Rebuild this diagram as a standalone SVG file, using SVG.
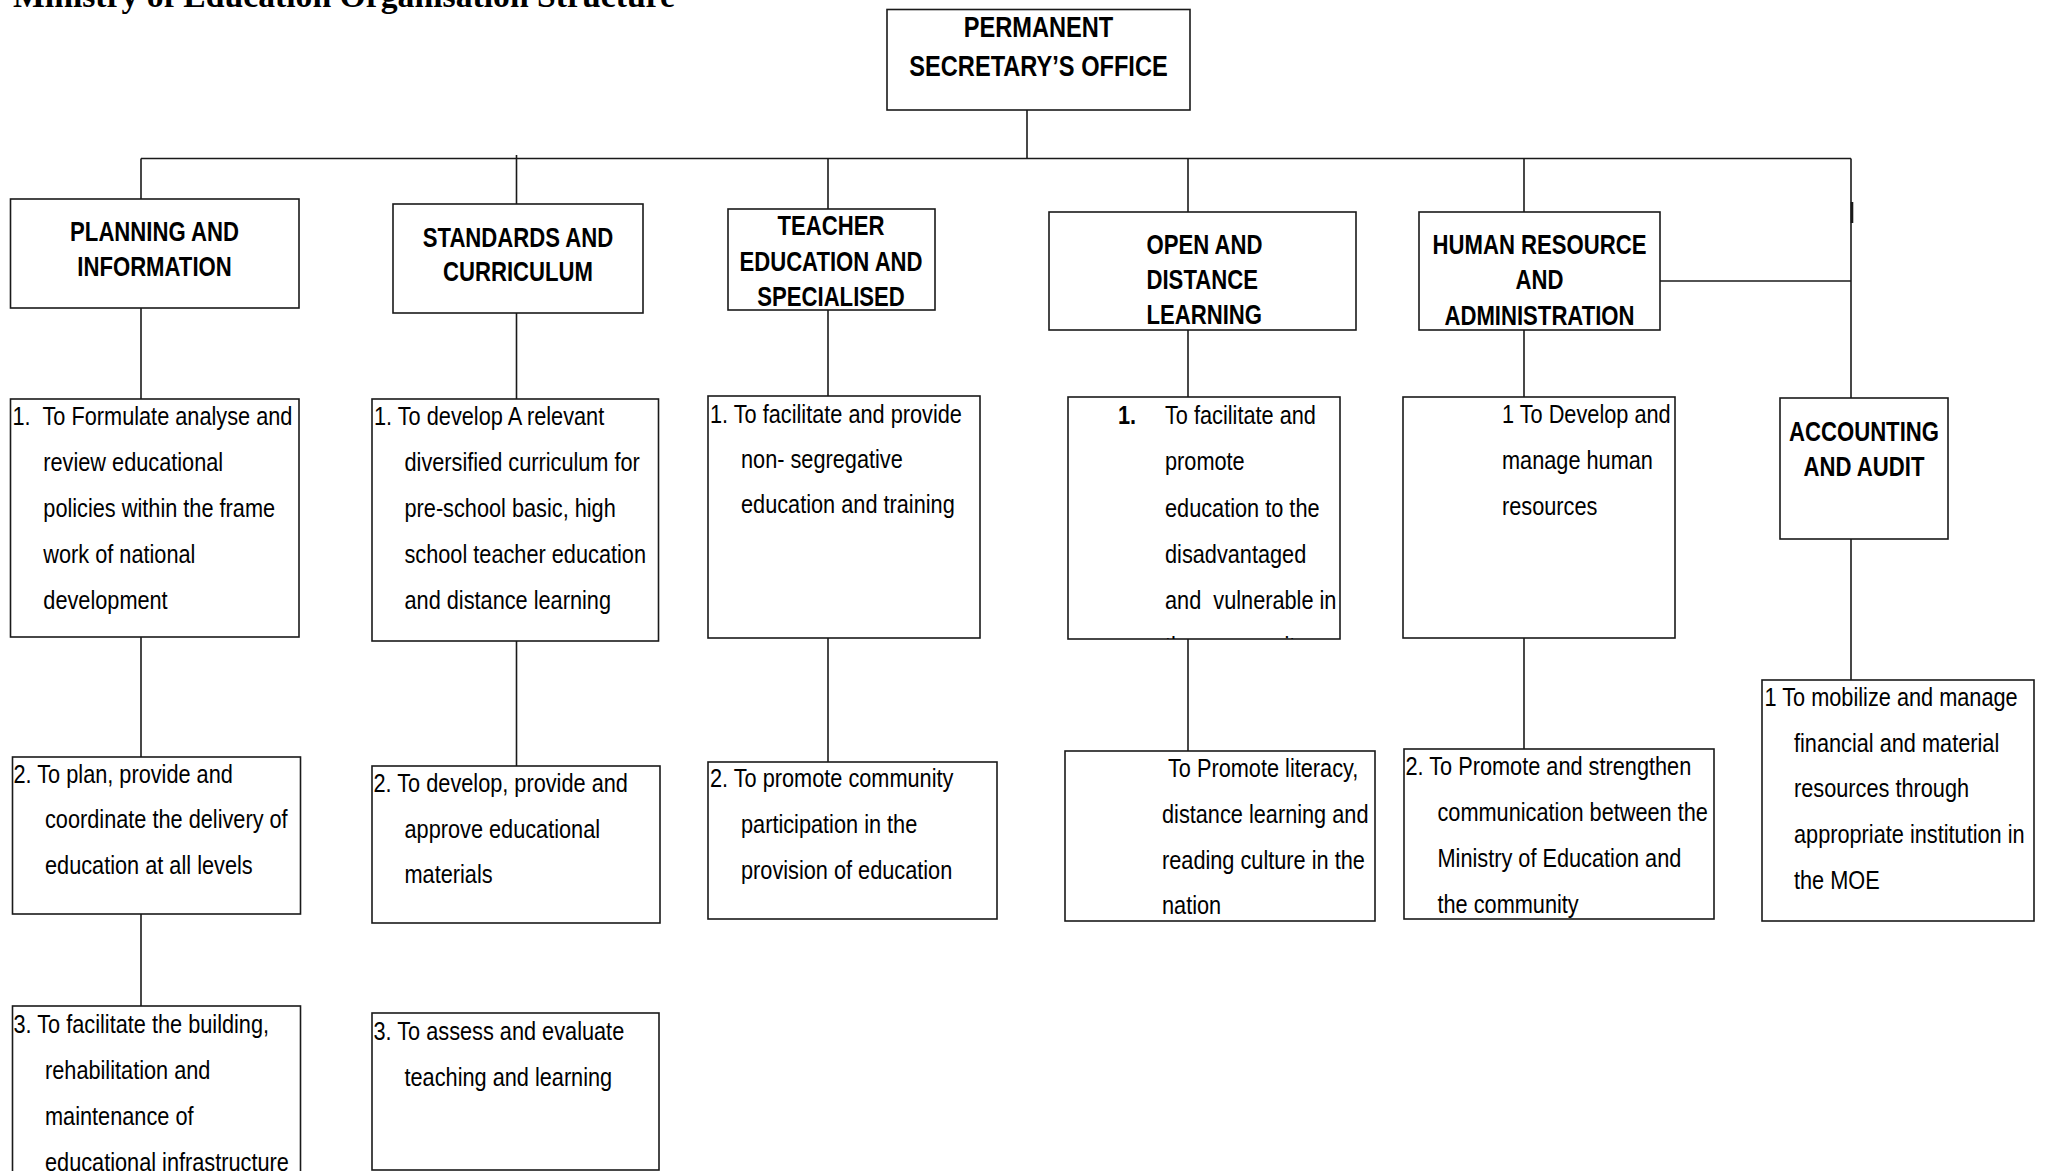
<svg xmlns="http://www.w3.org/2000/svg" width="2047" height="1171" viewBox="0 0 2047 1171">
  <style>
    .box { fill: #ffffff; stroke: #1a1a1a; stroke-width: 1.6; }
    .ln { fill: none; stroke: #1a1a1a; stroke-width: 1.6; }
    /* condensed sans: regular face squeezed horizontally via transform */
    .hd { font-family: "Liberation Sans", Arial, sans-serif; font-weight: bold; font-size: 27px; fill: #000; text-anchor: middle; }
    .hd.l { text-anchor: start; }
    .hd.ps { font-size: 28.8px; }
    .tx { font-family: "Liberation Sans", Arial, sans-serif; font-size: 26.5px; fill: #000; }
    .b { font-weight: bold; }
    .title { font-family: "Liberation Serif", "Times New Roman", serif; font-weight: bold; font-size: 33.7px; fill: #000; }
  </style>
  <defs>
    <clipPath id="clipOpen1">
      <rect x="1068" y="397" width="272" height="242"/>
    </clipPath>
  </defs>
  <rect width="2047" height="1171" fill="#ffffff"/>

  <text class="title" x="13" y="7">Ministry of Education Organisation Structure</text>

  <!-- connectors -->
  <g id="connectors">
    <line class="ln" x1="1027" y1="110" x2="1027" y2="158.5"/>
    <line class="ln" x1="141" y1="158.5" x2="1851" y2="158.5"/>
    <line class="ln" x1="1851" y1="158.5" x2="1851" y2="398"/>
    <line x1="1852" y1="202" x2="1852" y2="223" stroke="#1a1a1a" stroke-width="2.6"/>
    <line class="ln" x1="1660" y1="281" x2="1851" y2="281"/>
    <!-- drops to department boxes -->
    <line class="ln" x1="141" y1="158.5" x2="141" y2="199"/>
    <line class="ln" x1="516.5" y1="155" x2="516.5" y2="204"/>
    <line class="ln" x1="828" y1="158.5" x2="828" y2="209"/>
    <line class="ln" x1="1188" y1="158.5" x2="1188" y2="212"/>
    <line class="ln" x1="1524" y1="158.5" x2="1524" y2="212"/>
    <!-- function chains -->
    <line class="ln" x1="141" y1="308" x2="141" y2="399"/>
    <line class="ln" x1="141" y1="637" x2="141" y2="757"/>
    <line class="ln" x1="141" y1="914" x2="141" y2="1006"/>
    <line class="ln" x1="516.5" y1="313" x2="516.5" y2="399"/>
    <line class="ln" x1="516.5" y1="641" x2="516.5" y2="766"/>
    <line class="ln" x1="828" y1="310" x2="828" y2="396"/>
    <line class="ln" x1="828" y1="638" x2="828" y2="762"/>
    <line class="ln" x1="1188" y1="330" x2="1188" y2="397"/>
    <line class="ln" x1="1188" y1="639" x2="1188" y2="751"/>
    <line class="ln" x1="1524" y1="330" x2="1524" y2="397"/>
    <line class="ln" x1="1524" y1="638" x2="1524" y2="749"/>
    <line class="ln" x1="1851" y1="539" x2="1851" y2="680"/>
  </g>

  <!-- top office -->
  <g id="permanent-secretary">
    <rect class="box" x="887" y="9.5" width="303" height="100.5"/>
    <text class="hd ps" transform="translate(1038.5 37) scale(0.82 1)">PERMANENT</text>
    <text class="hd ps" transform="translate(1038.5 76) scale(0.82 1)">SECRETARY’S OFFICE</text>
  </g>

  <!-- departments -->
  <g id="planning">
    <rect class="box" x="10.5" y="199" width="288.5" height="109"/>
    <text class="hd" transform="translate(154.5 240.5) scale(0.82 1)">PLANNING AND</text>
    <text class="hd" transform="translate(154.5 275.5) scale(0.82 1)">INFORMATION</text>
  </g>
  <g id="standards">
    <rect class="box" x="393" y="204" width="250" height="109"/>
    <text class="hd" transform="translate(518 246.5) scale(0.82 1)">STANDARDS AND</text>
    <text class="hd" transform="translate(518 281) scale(0.82 1)">CURRICULUM</text>
  </g>
  <g id="teacher-education">
    <rect class="box" x="728" y="209" width="207" height="101"/>
    <text class="hd" transform="translate(831 235) scale(0.82 1)">TEACHER</text>
    <text class="hd" transform="translate(831 270.5) scale(0.82 1)">EDUCATION AND</text>
    <text class="hd" transform="translate(831 305.5) scale(0.82 1)">SPECIALISED</text>
  </g>
  <g id="open-distance">
    <rect class="box" x="1049" y="212" width="307" height="118"/>
    <text class="hd l" transform="translate(1146.5 254) scale(0.82 1)">OPEN AND</text>
    <text class="hd l" transform="translate(1146.5 289) scale(0.82 1)">DISTANCE</text>
    <text class="hd l" transform="translate(1146.5 324) scale(0.82 1)">LEARNING</text>
  </g>
  <g id="human-resource">
    <rect class="box" x="1419" y="212" width="241" height="118"/>
    <text class="hd" transform="translate(1539.5 254) scale(0.82 1)">HUMAN RESOURCE</text>
    <text class="hd" transform="translate(1539.5 289) scale(0.82 1)">AND</text>
    <text class="hd" transform="translate(1539.5 325) scale(0.82 1)">ADMINISTRATION</text>
  </g>
  <g id="accounting">
    <rect class="box" x="1780" y="398" width="168" height="141"/>
    <text class="hd" transform="translate(1864 441) scale(0.82 1)">ACCOUNTING</text>
    <text class="hd" transform="translate(1864 476) scale(0.82 1)">AND AUDIT</text>
  </g>

  <!-- planning functions -->
  <g id="planning-1">
    <rect class="box" x="10.5" y="399" width="288.5" height="238"/>
    <text class="tx" transform="translate(12.5 425) scale(0.82 1)">1.</text>
    <text class="tx" transform="translate(42.5 425) scale(0.82 1)">To Formulate analyse and</text>
    <text class="tx" transform="translate(43.3 470.7) scale(0.82 1)">review educational</text>
    <text class="tx" transform="translate(43.3 516.7) scale(0.82 1)">policies within the frame</text>
    <text class="tx" transform="translate(43.3 562.7) scale(0.82 1)">work of national</text>
    <text class="tx" transform="translate(43.3 608.7) scale(0.82 1)">development</text>
  </g>
  <g id="planning-2">
    <rect class="box" x="12.5" y="757" width="288" height="157"/>
    <text class="tx" transform="translate(13.5 782.7) scale(0.82 1)">2. To plan, provide and</text>
    <text class="tx" transform="translate(45 828.3) scale(0.82 1)">coordinate the delivery of</text>
    <text class="tx" transform="translate(45 874) scale(0.82 1)">education at all levels</text>
  </g>
  <g id="planning-3">
    <rect class="box" x="12.5" y="1006" width="288" height="180"/>
    <text class="tx" transform="translate(13.5 1033) scale(0.82 1)">3. To facilitate the building,</text>
    <text class="tx" transform="translate(45 1079) scale(0.82 1)">rehabilitation and</text>
    <text class="tx" transform="translate(45 1125) scale(0.82 1)">maintenance of</text>
    <text class="tx" transform="translate(45 1170.5) scale(0.82 1)">educational infrastructure</text>
  </g>

  <!-- standards functions -->
  <g id="standards-1">
    <rect class="box" x="372" y="399" width="286.5" height="242"/>
    <text class="tx" transform="translate(374 425) scale(0.82 1)">1. To develop A relevant</text>
    <text class="tx" transform="translate(404.5 470.7) scale(0.82 1)">diversified curriculum for</text>
    <text class="tx" transform="translate(404.5 516.7) scale(0.82 1)">pre-school basic, high</text>
    <text class="tx" transform="translate(404.5 562.7) scale(0.82 1)">school teacher education</text>
    <text class="tx" transform="translate(404.5 608.7) scale(0.82 1)">and distance learning</text>
  </g>
  <g id="standards-2">
    <rect class="box" x="372" y="766" width="288" height="157"/>
    <text class="tx" transform="translate(373.5 791.7) scale(0.82 1)">2. To develop, provide and</text>
    <text class="tx" transform="translate(404.5 837.7) scale(0.82 1)">approve educational</text>
    <text class="tx" transform="translate(404.5 883.3) scale(0.82 1)">materials</text>
  </g>
  <g id="standards-3">
    <rect class="box" x="372" y="1013" width="287" height="157"/>
    <text class="tx" transform="translate(373.5 1040) scale(0.82 1)">3. To assess and evaluate</text>
    <text class="tx" transform="translate(404.5 1085.7) scale(0.82 1)">teaching and learning</text>
  </g>

  <!-- teacher education functions -->
  <g id="teacher-1">
    <rect class="box" x="708" y="396" width="272" height="242"/>
    <text class="tx" transform="translate(710 422.7) scale(0.82 1)">1. To facilitate and provide</text>
    <text class="tx" transform="translate(741 468) scale(0.82 1)">non- segregative</text>
    <text class="tx" transform="translate(741 513.3) scale(0.82 1)">education and training</text>
  </g>
  <g id="teacher-2">
    <rect class="box" x="708" y="762" width="289" height="157"/>
    <text class="tx" transform="translate(710 787.3) scale(0.82 1)">2. To promote community</text>
    <text class="tx" transform="translate(741 833.3) scale(0.82 1)">participation in the</text>
    <text class="tx" transform="translate(741 879.3) scale(0.82 1)">provision of education</text>
  </g>

  <!-- open and distance learning functions -->
  <g id="open-1">
    <rect class="box" x="1068" y="397" width="272" height="242"/>
    <text class="tx b" transform="translate(1118 424.3) scale(0.82 1)">1.</text>
    <text class="tx" transform="translate(1165 424.3) scale(0.82 1)">To facilitate and</text>
    <text class="tx" transform="translate(1165 470) scale(0.82 1)">promote</text>
    <text class="tx" transform="translate(1165 516.7) scale(0.82 1)">education to the</text>
    <text class="tx" transform="translate(1165 562.7) scale(0.82 1)">disadvantaged</text>
    <text class="tx" transform="translate(1165 609.3) scale(0.82 1)" xml:space="preserve">and  vulnerable in</text>
    <g clip-path="url(#clipOpen1)">
      <text class="tx" transform="translate(1165 655.3) scale(0.82 1)">the community</text>
    </g>
  </g>
  <g id="open-2">
    <rect class="box" x="1065" y="751" width="310" height="170"/>
    <text class="tx" transform="translate(1168 777.3) scale(0.82 1)">To Promote literacy,</text>
    <text class="tx" transform="translate(1162 823.3) scale(0.82 1)">distance learning and</text>
    <text class="tx" transform="translate(1162 869) scale(0.82 1)">reading culture in the</text>
    <text class="tx" transform="translate(1162 914.3) scale(0.82 1)">nation</text>
  </g>

  <!-- human resource functions -->
  <g id="hr-1">
    <rect class="box" x="1403" y="397" width="272" height="241"/>
    <text class="tx" transform="translate(1502 423) scale(0.82 1)">1 To Develop and</text>
    <text class="tx" transform="translate(1502 469) scale(0.82 1)">manage human</text>
    <text class="tx" transform="translate(1502 515) scale(0.82 1)">resources</text>
  </g>
  <g id="hr-2">
    <rect class="box" x="1404" y="749" width="310" height="170"/>
    <text class="tx" transform="translate(1405.5 775) scale(0.82 1)">2. To Promote and strengthen</text>
    <text class="tx" transform="translate(1437.5 820.7) scale(0.82 1)">communication between the</text>
    <text class="tx" transform="translate(1437.5 866.7) scale(0.82 1)">Ministry of Education and</text>
    <text class="tx" transform="translate(1437.5 912.7) scale(0.82 1)">the community</text>
  </g>

  <!-- accounting functions -->
  <g id="accounting-1">
    <rect class="box" x="1762" y="680" width="272" height="241"/>
    <text class="tx" transform="translate(1764.5 706) scale(0.82 1)">1 To mobilize and manage</text>
    <text class="tx" transform="translate(1794 751.7) scale(0.82 1)">financial and material</text>
    <text class="tx" transform="translate(1794 797.3) scale(0.82 1)">resources through</text>
    <text class="tx" transform="translate(1794 843.3) scale(0.82 1)">appropriate institution in</text>
    <text class="tx" transform="translate(1794 889.3) scale(0.82 1)">the MOE</text>
  </g>
</svg>
